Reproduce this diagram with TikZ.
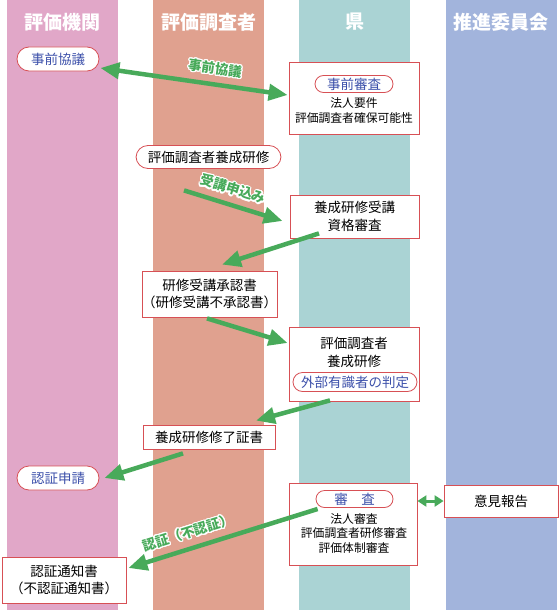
\documentclass[tikz,border=0pt]{standalone}
\usepackage{fontspec}
\setmainfont{Noto Sans CJK JP}
\usepackage{contour}
\contourlength{1.2pt}
\usetikzlibrary{arrows.meta,calc}

\definecolor{kikanpink}{RGB}{225,167,200}
\definecolor{chosasalmon}{RGB}{224,161,143}
\definecolor{kenteal}{RGB}{170,211,212}
\definecolor{iinblue}{RGB}{162,180,220}
\definecolor{boxred}{RGB}{215,80,85}
\definecolor{pillblue}{RGB}{60,80,170}
\definecolor{flowgreen}{RGB}{72,170,90}

\begin{document}
\begin{tikzpicture}[
  x=1pt, y=-1pt,
  lane/.style={inner sep=0pt, minimum width=111pt, minimum height=610pt, anchor=north},
  header/.style={text=white, inner sep=0pt, font=\fontsize{19}{22}\selectfont\bfseries},
  box/.style={draw=boxred, fill=white, line width=0.8pt, align=center, inner sep=0pt,
    font=\fontsize{13.5}{17.5}\selectfont},
  pill/.style={box, rounded corners=12pt, minimum height=24pt},
  inpill/.style={draw=boxred, fill=white, line width=0.8pt, rounded corners=8.5pt,
    minimum height=17pt, inner sep=0pt, text=pillblue, font=\fontsize{13.5}{16}\selectfont},
  smalltxt/.style={align=center, inner sep=0pt, font=\fontsize{11.8}{14.6}\selectfont},
  flow/.style={draw=flowgreen, line width=4.5pt, -{Triangle[length=19pt,width=16pt]},
    preaction={draw=white, transform canvas={yshift=-1.5pt}}},
  flowboth/.style={flow, {Triangle[length=19pt,width=16pt]}-{Triangle[length=19pt,width=16pt]}},
  flowlbl/.style={text=flowgreen, inner sep=1pt, font=\fontsize{13.5}{15}\selectfont\bfseries, sloped, above=5pt}
]
  \useasboundingbox (0,0) rectangle (559,610);

  % Lanes
  \node[lane, fill=kikanpink] (lkikan) at (62.5,0) {};
  \node[lane, fill=chosasalmon] (lchosa) at (208.5,0) {};
  \node[lane, fill=kenteal] (lken) at (354.5,0) {};
  \node[lane, fill=iinblue] (liin) at (501,0) {};

  \node[header] (hkikan) at (62.5,22) {評価機関};
  \node[header] (hchosa) at (208.5,22) {評価調査者};
  \node[header] (hken) at (354.5,22) {県};
  \node[header] (hiin) at (501,22) {推進委員会};

  % Steps
  \node[pill, minimum width=82pt, text=pillblue] (kyogi) at (58,59) {事前協議};

  \node[box, minimum width=130pt, minimum height=72pt] (jizen) at (354,98) {};
  \node[inpill, minimum width=78pt] (jizenp) at (354,84) {事前審査};
  \node[smalltxt] (jizent) at (354,110.5) {法人要件\\評価調査者確保可能性};

  \node[pill, minimum width=145pt, minimum height=23pt] (yosei) at (208.5,157) {評価調査者養成研修};

  \node[box, minimum width=129pt, minimum height=43pt] (shikaku) at (354.5,216.5) {養成研修受講\\資格審査};

  \node[box, minimum width=133pt, minimum height=46pt] (shonin) at (209.5,294) {研修受講承認書\\（研修受講不承認書）};

  \node[box, minimum width=130pt, minimum height=74pt] (kenshu) at (354,364) {};
  \node[box, draw=none, fill=none] (kenshut) at (354,352.5) {評価調査者\\養成研修};
  \node[inpill, minimum width=124pt, minimum height=19pt, rounded corners=9.5pt] (hantei) at (355,382) {外部有識者の判定};

  \node[box, minimum width=132pt, minimum height=24pt] (shusho) at (209,437) {養成研修修了証書};

  \node[pill, minimum width=82pt, text=pillblue] (shinsei) at (58,478) {認証申請};

  \node[box, minimum width=128pt, minimum height=82pt] (shinsa) at (353,524) {};
  \node[inpill, minimum width=77pt] (shinsap) at (354.5,499) {審　査};
  \node[smalltxt] (shinsat) at (354,533.5) {法人審査\\評価調査者研修審査\\評価体制審査};

  \node[box, minimum width=114pt, minimum height=32pt] (iken) at (501,501) {意見報告};

  \node[box, minimum width=124pt, minimum height=46pt] (tsuchi) at (64,580) {認証通知書\\（不認証通知書）};

  % Flow arrows
  \draw[flowboth] ($(kyogi.east)+(1,9)$) -- node[flowlbl, pos=0.6] {\contour{white}{事前協議}} ($(jizen.west)+(-1,-3)$);
  \draw[flow] ($(yosei.south)+(-24.5,21.5)$) -- node[flowlbl, pos=0.45] {\contour{white}{受講申込み}} ($(shikaku.west)+(-7,4.5)$);
  \draw[flow] ($(shikaku.south)+(-35.5,-5)$) -- ($(shonin.north)+(12.5,-6)$);
  \draw[flow] ($(shonin.south)+(-2.5,1)$) -- ($(kenshu.west)+(-1,-21)$);
  \draw[flow] ($(kenshu.south)+(-24,-1)$) -- ($(shusho.north)+(47,-4)$);
  \draw[flow] ($(shusho.south)+(-26,4)$) -- ($(shinsei.east)+(5,0)$);
  \draw[flow] ($(shinsa.west)+(29,-15)$) -- node[flowlbl, pos=0.66] {\contour{white}{認証（不認証）}} ($(tsuchi.east)+(2,-12)$);
  \draw[draw=flowgreen, line width=3pt, {Triangle[length=9pt,width=11pt]}-{Triangle[length=9pt,width=11pt]}]
    (shinsa.east |- iken.west) -- (iken.west);

\end{tikzpicture}
\end{document}
